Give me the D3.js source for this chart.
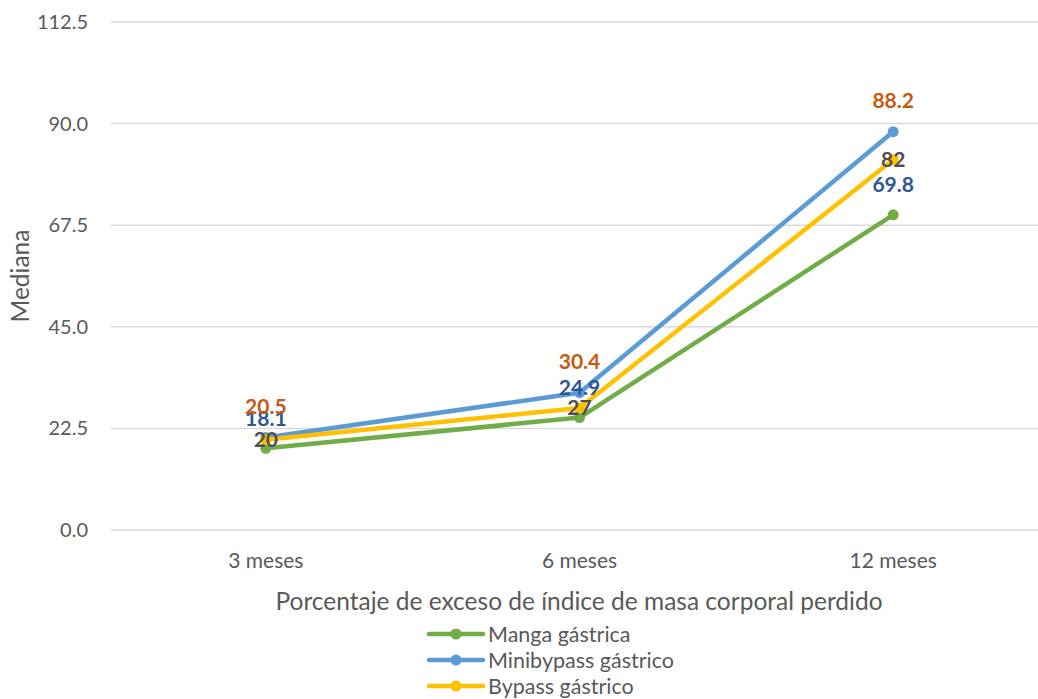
<!DOCTYPE html>
<html>
<head>
<meta charset="utf-8">
<script src="https://cdn.jsdelivr.net/npm/d3@7/dist/d3.min.js"></script>
<style>
  html, body { margin: 0; padding: 0; background: #fff; }
  svg { display: block; font-family: Lato, "Open Sans", sans-serif; }
</style>
</head>
<body>
<svg id="chart" width="1038" height="699"></svg>
<script>
// Categories and series (mediana del % de exceso de IMC perdido)
const categories = ["3 meses", "6 meses", "12 meses"];
const seriesNames = ["Manga gástrica", "Minibypass gástrico", "Bypass gástrico"];
const mangaValues = [18.1, 24.9, 69.8];
const minibypassValues = [20.5, 30.4, 88.2];
const bypassValues = [20, 27, 82];
const yTicks = [0, 22.5, 45, 67.5, 90, 112.5];

const lineColors = ["#70AD47", "#5B9BD5", "#FFC000"];
const labelColors = ["#2F5597", "#C55A11", "#505050"];
const labelOffsets = [-30, -31, 0];

const series = [mangaValues, minibypassValues, bypassValues].map((vals, i) => ({
  name: seriesNames[i],
  values: vals,
  color: lineColors[i],
  labelColor: labelColors[i],
  labelDy: labelOffsets[i]
}));

const svg = d3.select("#chart");
const plotLeft = 111, plotRight = 1038, plotTop = 22, plotBottom = 530;

const x = d3.scaleBand().domain(categories).range([109, 1050]);
const y = d3.scaleLinear().domain([0, 112.5]).range([plotBottom, plotTop]);
const cx = c => x(c) + x.bandwidth() / 2;

// Horizontal gridlines
svg.append("g")
  .selectAll("line")
  .data(yTicks)
  .join("line")
  .attr("x1", plotLeft).attr("x2", plotRight)
  .attr("y1", d => y(d)).attr("y2", d => y(d))
  .attr("stroke", "#D9D9D9").attr("stroke-width", 1.5);

// Y tick labels
svg.append("g")
  .selectAll("text")
  .data(yTicks)
  .join("text")
  .attr("x", 88).attr("y", d => y(d))
  .attr("dy", "0.35em")
  .attr("text-anchor", "end")
  .attr("font-size", 20)
  .attr("fill", "#595959")
  .text(d => d3.format(".1f")(d));

// X category labels
svg.append("g")
  .selectAll("text")
  .data(categories)
  .join("text")
  .attr("x", d => cx(d)).attr("y", 561)
  .attr("dy", "0.35em")
  .attr("text-anchor", "middle")
  .attr("font-size", 21)
  .attr("fill", "#595959")
  .text(d => d);

// Axis titles
svg.append("text")
  .attr("x", 579).attr("y", 601).attr("dy", "0.35em")
  .attr("text-anchor", "middle")
  .attr("font-size", 24.5)
  .attr("fill", "#595959")
  .text("Porcentaje de exceso de índice de masa corporal perdido");

svg.append("text")
  .attr("transform", "translate(20,276) rotate(-90)")
  .attr("dy", "0.35em")
  .attr("text-anchor", "middle")
  .attr("font-size", 24.5)
  .attr("fill", "#595959")
  .text("Mediana");

// Lines and markers
const line = d3.line().x((d, i) => cx(categories[i])).y(d => y(d));

const g = svg.append("g");
series.forEach(s => {
  g.append("path")
    .datum(s.values)
    .attr("d", line)
    .attr("fill", "none")
    .attr("stroke", s.color)
    .attr("stroke-width", 4.5)
    .attr("stroke-linejoin", "round")
    .attr("stroke-linecap", "round");
  g.selectAll(null)
    .data(s.values)
    .join("circle")
    .attr("cx", (d, i) => cx(categories[i]))
    .attr("cy", d => y(d))
    .attr("r", 5.5)
    .attr("fill", s.color);
});

// Data labels
series.forEach(s => {
  svg.append("g")
    .selectAll("text")
    .data(s.values)
    .join("text")
    .attr("x", (d, i) => cx(categories[i]))
    .attr("y", d => y(d) + s.labelDy)
    .attr("dy", "0.35em")
    .attr("text-anchor", "middle")
    .attr("font-size", 21)
    .attr("font-weight", "bold")
    .attr("fill", s.labelColor)
    .text(d => d);
});

// Legend
const legend = svg.append("g");
series.forEach((s, i) => {
  const ly = 634 + i * 26;
  legend.append("line")
    .attr("x1", 429).attr("x2", 483)
    .attr("y1", ly).attr("y2", ly)
    .attr("stroke", s.color).attr("stroke-width", 4.5)
    .attr("stroke-linecap", "round");
  legend.append("circle")
    .attr("cx", 456).attr("cy", ly).attr("r", 5.5)
    .attr("fill", s.color);
  legend.append("text")
    .attr("x", 488).attr("y", ly).attr("dy", "0.35em")
    .attr("font-size", 21.5)
    .attr("fill", "#595959")
    .text(s.name);
});
</script>
</body>
</html>
